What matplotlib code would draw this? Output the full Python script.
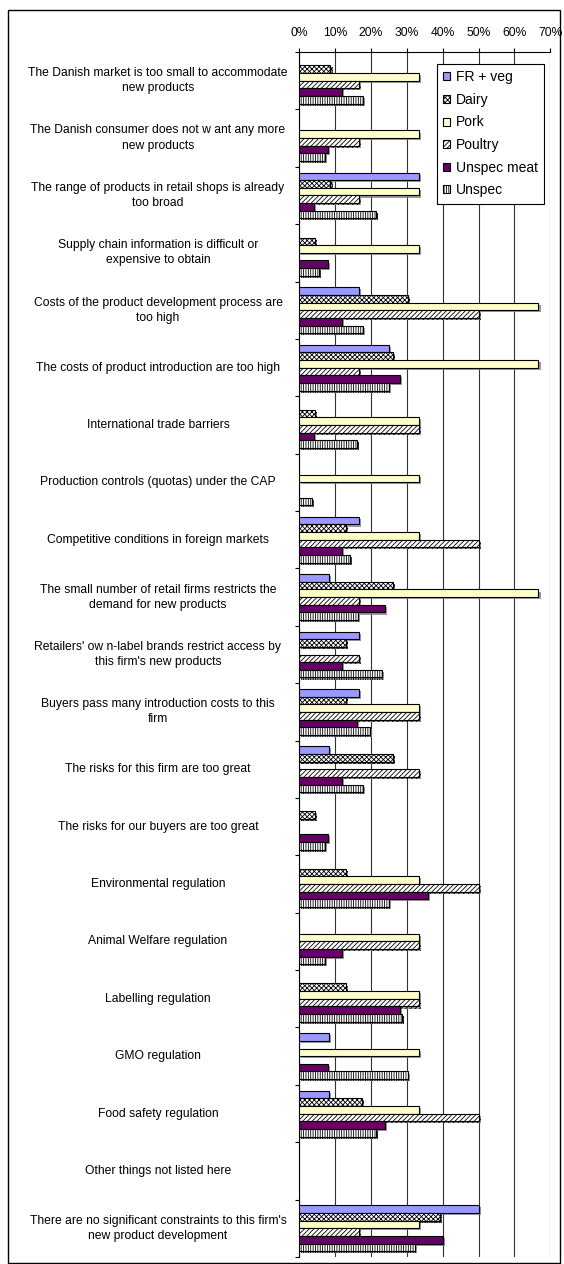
import matplotlib
matplotlib.use("Agg")
import matplotlib.pyplot as plt
import matplotlib.patheffects as pe
from matplotlib.patches import Patch, Rectangle
from matplotlib.transforms import blended_transform_factory
import numpy as np

categories = [
    "The Danish market is too small to accommodate\nnew products",
    "The Danish consumer does not w ant any more\nnew products",
    "The range of products in retail shops is already\ntoo broad",
    "Supply chain information is difficult or\nexpensive to obtain",
    "Costs of the product development process are\ntoo high",
    "The costs of product introduction are too high",
    "International trade barriers",
    "Production controls (quotas) under the CAP",
    "Competitive conditions in foreign markets",
    "The small number of retail firms restricts the\ndemand for new products",
    "Retailers' ow n-label brands restrict access by\nthis firm's new products",
    "Buyers pass many introduction costs to this\nfirm",
    "The risks for this firm are too great",
    "The risks for our buyers are too great",
    "Environmental regulation",
    "Animal Welfare regulation",
    "Labelling regulation",
    "GMO regulation",
    "Food safety regulation",
    "Other things not listed here",
    "There are no significant constraints to this firm's\nnew product development",
]

series_names = ["FR + veg", "Dairy", "Pork", "Poultry", "Unspec meat", "Unspec"]

fr_veg = [0, 0, 33.3, 0, 16.7, 25.0, 0, 0, 16.7, 8.3, 16.7, 16.7, 8.3, 0, 0, 0, 0, 8.3, 8.3, 0, 50.0]
dairy = [8.7, 0, 8.7, 4.3, 30.4, 26.1, 4.3, 0, 13.0, 26.1, 13.0, 13.0, 26.1, 4.3, 13.0, 0, 13.0, 0, 17.4, 0, 39.1]
pork = [33.3, 33.3, 33.3, 33.3, 66.7, 66.7, 33.3, 33.3, 33.3, 66.7, 0, 33.3, 0, 0, 33.3, 33.3, 33.3, 33.3, 33.3, 0, 33.3]
poultry = [16.7, 16.7, 16.7, 0, 50.0, 16.7, 33.3, 0, 50.0, 16.7, 16.7, 33.3, 33.3, 0, 50.0, 33.3, 33.3, 0, 50.0, 0, 16.7]
unspec_meat = [12, 8, 4, 8, 12, 28, 4, 0, 12, 24, 12, 16, 12, 8, 36, 12, 28, 8, 24, 0, 40]
unspec = [17.8, 7.2, 21.3, 5.6, 17.8, 25.1, 16.2, 3.6, 14.2, 16.3, 23.1, 19.7, 17.8, 7.1, 25.1, 7.1, 28.7, 30.3, 21.3, 0, 32.3]

xticks = [0, 10, 20, 30, 40, 50, 60, 70]

all_series = [fr_veg, dairy, pork, poultry, unspec_meat, unspec]
faces = ["#9999FF", "white", "#FFFFCC", "white", "#660066", "white"]
hatches = [None, "xxxxxxx", None, "///////", None, "|||||||"]

plt.rcParams["font.family"] = ["Liberation Sans", "DejaVu Sans"]
plt.rcParams["hatch.linewidth"] = 0.6

W, H = 564, 1264
fig = plt.figure(figsize=(W / 100, H / 100), dpi=100)
ax = fig.add_axes([299.3 / W, 1 - 1257 / H, (550.3 - 299.3) / W, (1257 - 52) / H])

n = len(categories)
y = np.arange(n)
h = 0.8 / 6
shadow = [pe.SimplePatchShadow(offset=(1.5, -1.5), shadow_rgbFace="#808080", alpha=0.8), pe.Normal()]
for i, vals in enumerate(all_series):
    vals = np.array(vals, dtype=float)
    idx = np.nonzero(vals)[0]
    bars = ax.barh(y[idx] + (i - 2.5) * h, vals[idx], height=h, color=faces[i],
                   edgecolor="black", linewidth=0.8, hatch=hatches[i], zorder=3)
    for b in bars:
        b.set_path_effects(shadow)

ax.set_xlim(0, 70)
ax.set_ylim(n - 0.5, -0.5)
ax.xaxis.tick_top()
ax.set_xticks(xticks)
ax.set_xticklabels([f"{t}%" for t in xticks], fontsize=8.7)
ax.tick_params(axis="x", direction="out", length=3, pad=6, width=0.8)
ax.set_yticks(np.arange(n + 1) - 0.5)
ax.set_yticklabels([])
ax.tick_params(axis="y", direction="out", length=3, width=0.8)
ax.grid(axis="x", color="#333333", linewidth=0.8, zorder=0)
for s in ["right", "bottom"]:
    ax.spines[s].set_visible(False)
ax.spines["left"].set_linewidth(0.8)
ax.spines["top"].set_linewidth(0.8)

tr = blended_transform_factory(fig.transFigure, ax.transData)
for i, c in enumerate(categories):
    fig.text(158 / W, i, c, transform=tr, ha="center", va="center",
             multialignment="center", fontsize=8.7, linespacing=1.35)

handles = [Patch(facecolor=faces[i], edgecolor="black", hatch=hatches[i], linewidth=0.8)
           for i in range(6)]
leg = fig.legend(handles, series_names, loc="upper left",
                 bbox_to_anchor=(437 / W, 1 - 64 / H), fontsize=10,
                 handlelength=0.5, handleheight=0.5, handletextpad=0.4,
                 labelspacing=0.62, borderpad=0.45, borderaxespad=0,
                 fancybox=False, framealpha=1, edgecolor="black")
leg.get_frame().set_linewidth(0.8)

fig.patches.append(Rectangle((8 / W, 1 / H), (560 - 8) / W, (1264 - 10 - 1) / H,
                             transform=fig.transFigure, fill=False,
                             edgecolor="black", linewidth=1.0))

fig.savefig("out.png", dpi=100)
